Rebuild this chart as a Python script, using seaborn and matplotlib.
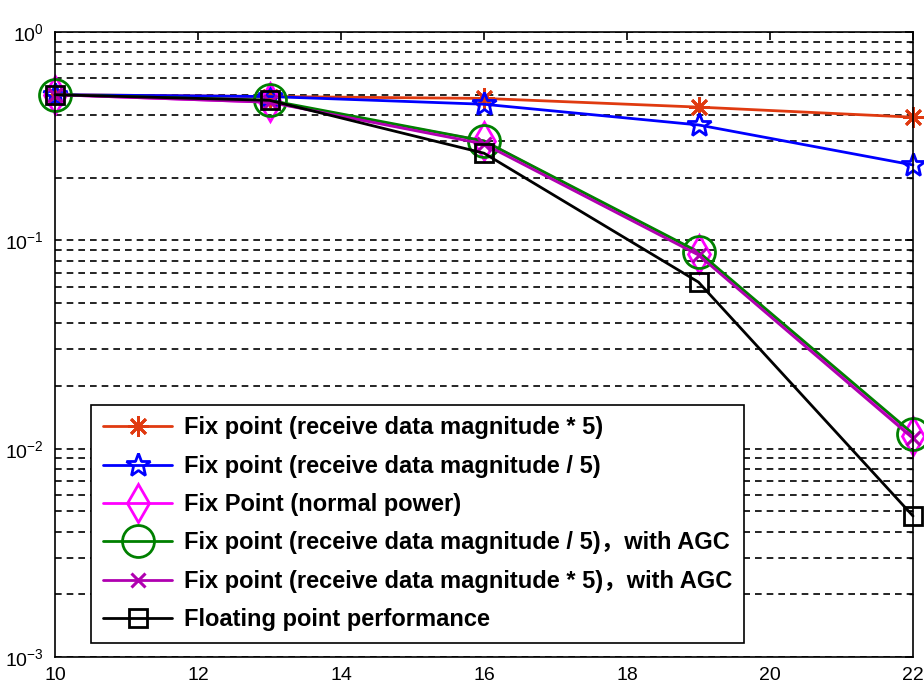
import numpy as np
import pandas as pd
import seaborn as sns
import matplotlib
matplotlib.use("Agg")
import matplotlib.pyplot as plt
from matplotlib.ticker import FixedLocator, FuncFormatter, LogLocator, NullFormatter

# SNR points and bit-error rates for each receiver configuration
snr = [10, 13, 16, 19, 22]
ber_fix_mag_x5 = [0.50, 0.49, 0.48, 0.436, 0.39]
ber_fix_mag_div5 = [0.50, 0.49, 0.45, 0.358, 0.23]
ber_fix_normal = [0.50, 0.46, 0.30, 0.086, 0.0115]
ber_fix_div5_agc = [0.50, 0.47, 0.30, 0.088, 0.0118]
ber_fix_x5_agc = [0.50, 0.46, 0.29, 0.085, 0.0112]
ber_float = [0.50, 0.47, 0.262, 0.063, 0.00475]

labels = [
    "Fix point (receive data magnitude * 5)",
    "Fix point (receive data magnitude / 5)",
    "Fix Point (normal power)",
    "Fix point (receive data magnitude / 5)\uff0cwith AGC",
    "Fix point (receive data magnitude * 5)\uff0cwith AGC",
    "Floating point performance",
]
x_ticks = [10, 12, 14, 16, 18, 20, 22]

sns.set_style("white")
plt.rcParams["font.family"] = ["Liberation Sans", "Noto Sans CJK SC", "DejaVu Sans"]
plt.rcParams["axes.unicode_minus"] = False
plt.rcParams["mathtext.fontset"] = "custom"
plt.rcParams["mathtext.rm"] = "Liberation Sans"
plt.rcParams["mathtext.it"] = "Liberation Sans"
plt.rcParams["text.color"] = "black"
plt.rcParams["xtick.color"] = "black"
plt.rcParams["ytick.color"] = "black"
plt.rcParams["xtick.labelcolor"] = "black"
plt.rcParams["ytick.labelcolor"] = "black"

series = [ber_fix_mag_x5, ber_fix_mag_div5, ber_fix_normal,
          ber_fix_div5_agc, ber_fix_x5_agc, ber_float]
styles = [
    dict(color="#e03a10", marker=(8, 2, 0), ms=15, mew=2.0),
    dict(color="#0000ff", marker="*", ms=18, mew=2.0),
    dict(color="#ff00ff", marker="d", ms=19, mew=2.0),
    dict(color="#008000", marker="o", ms=23, mew=2.0),
    dict(color="#b000b0", marker="x", ms=10, mew=2.2),
    dict(color="#000000", marker="s", ms=13, mew=2.0),
]

fig = plt.figure(figsize=(9.24, 6.84), dpi=100)
ax = fig.add_axes([55 / 924, 27 / 684, 858 / 924, 625 / 684])

for vals, lab, st in zip(series, labels, styles):
    sns.lineplot(x=snr, y=vals, ax=ax, color=st["color"], label=lab,
                 marker=st["marker"], markersize=st["ms"],
                 markerfacecolor="none", markeredgecolor=st["color"],
                 markeredgewidth=st["mew"], linewidth=2.0,
                 errorbar=None)

for ln in ax.get_lines():
    ln.set_clip_on(False)

ax.set_yscale("log")
ax.set_xlim(10, 22)
ax.set_ylim(1e-3, 1)
ax.xaxis.set_major_locator(FixedLocator(x_ticks))
ax.yaxis.set_major_locator(LogLocator(base=10, numticks=10))
ax.yaxis.set_minor_locator(LogLocator(base=10, subs=np.arange(2, 10), numticks=20))
ax.yaxis.set_minor_formatter(NullFormatter())
ax.yaxis.set_major_formatter(
    FuncFormatter(lambda v, p: r"$\mathregular{10^{%d}}$" % int(round(np.log10(v)))))

ax.grid(True, which="both", axis="y", color="black", linestyle=(0, (4, 3)),
        linewidth=1.2)
ax.set_axisbelow(True)

ax.tick_params(axis="both", which="both", direction="in", top=True, right=True,
               labelsize=14, color="black", labelcolor="black")
ax.tick_params(axis="both", which="major", length=6, width=1.2)
ax.tick_params(axis="x", which="major", pad=7)
ax.tick_params(axis="y", which="major", pad=8)
ax.tick_params(axis="y", which="minor", length=3, width=1.0)
for sp in ax.spines.values():
    sp.set_color("black")
    sp.set_linewidth(1.2)
ax.set_xlabel("")
ax.set_ylabel("")

leg = ax.legend(loc="lower left", bbox_to_anchor=(0.042, 0.0224),
                borderaxespad=0, frameon=True, fancybox=False, framealpha=1,
                edgecolor="black", prop=dict(weight="bold", size=17),
                handlelength=2.95, handletextpad=0.47, labelspacing=0.65,
                borderpad=0.5, numpoints=1)
leg.get_frame().set_linewidth(1.2)
for t in leg.get_texts():
    t.set_color("black")

fig.savefig("out.png", dpi=100)
